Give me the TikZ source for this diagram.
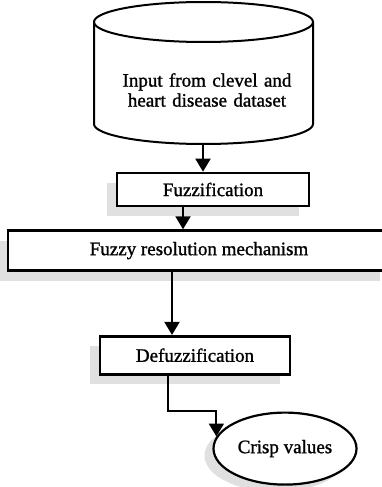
\documentclass[tikz,border=0pt]{standalone}
\usepackage{fontspec}
\setmainfont{Liberation Serif}
\newfontfamily\heavyserif{Liberation Serif}[FakeBold=1.2]
\usetikzlibrary{arrows.meta,positioning,shapes.geometric,shadows}

\begin{document}
\begin{tikzpicture}
[x=1pt, y=-1pt, font=\heavyserif\fontsize{19pt}{20pt}\selectfont,
% STYLES
% the data source is drawn as a drum round its text
drum/.style={line width=2pt},
dtext/.style={text width=200pt, align=center},
% steps of the fuzzy system
stage/.style={rectangle, draw, fill=white, line width=2.6pt, inner sep=4pt, text badly centered, drop shadow={shadow xshift=-10pt, shadow yshift=-10pt, fill=black!12, opacity=1}},
result/.style={ellipse, draw, fill=white, line width=2.2pt, minimum width=128pt, minimum height=72pt, drop shadow={shadow xshift=-9pt, shadow yshift=-7pt, fill=black!12, opacity=1}},
flow/.style={-{Triangle[width=15pt,length=13pt]}, line width=2pt}]

\useasboundingbox (0,0) rectangle (382,487);

% Draw the drum
\draw [drum] (203.5,22) ellipse [x radius=109.5, y radius=20];
\draw [drum] (94,22) -- (94,124) arc [start angle=180, end angle=0, x radius=109.5, y radius=20] -- (313,22);
\coordinate (dbase) at (203,144);

% Draw nodes
\node [dtext] (data) at (207,90) {Input from clevel and\\heart disease dataset};
\node [stage, minimum width=192pt, minimum height=33pt] (fuzz) at (213,189.5) {Fuzzification};
\node [stage, minimum width=382pt, minimum height=40pt, below=22pt of fuzz, xshift=-14pt] (fuzzy) {Fuzzy resolution mechanism};
\node [stage, minimum width=190pt, minimum height=38pt, below=63pt of fuzzy, xshift=-4pt] (defuzz) {Defuzzification};
\node [result, below=36pt of defuzz, xshift=90pt] (crisp) {Crisp values};

%%%%%%%%%%%%%%%%

\draw [flow] (dbase) -- (dbase |- fuzz.north);
\draw [flow] ([xshift=-30pt]fuzz.south) -- ([xshift=-30pt]fuzz.south |- fuzzy.north);
\draw [flow] ([xshift=-23pt]defuzz.north |- fuzzy.south) -- ([xshift=-23pt]defuzz.north);
\draw [flow] ([xshift=-27pt]defuzz.south) -- ++(0,35) -| (crisp.170);

\end{tikzpicture}
\end{document}
